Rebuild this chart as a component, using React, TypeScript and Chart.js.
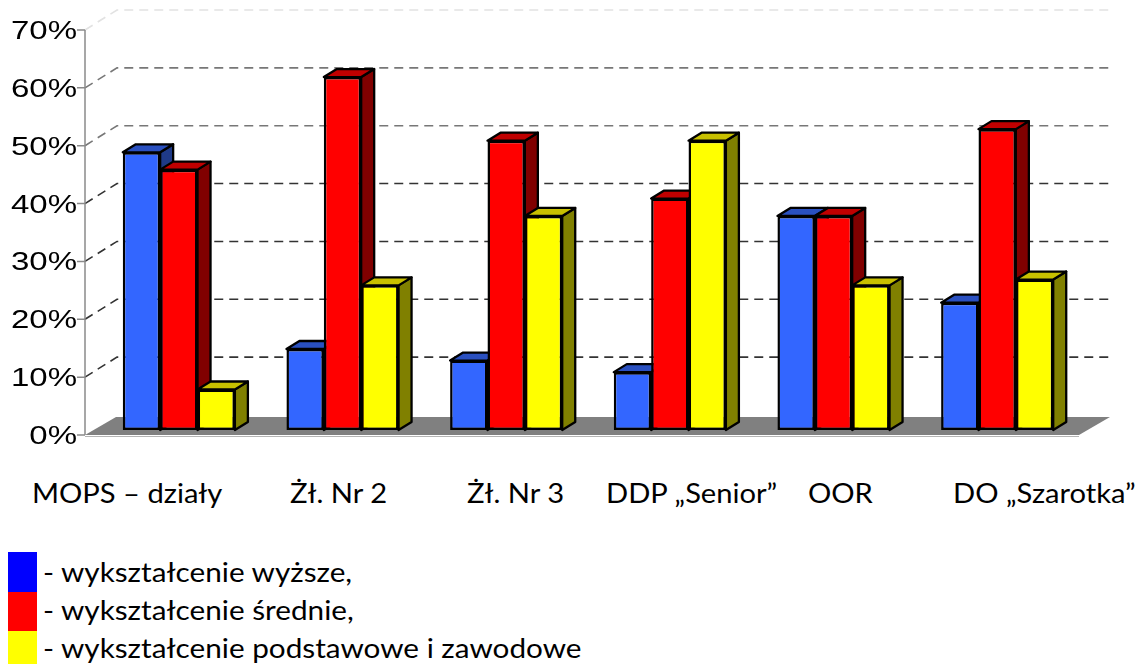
import React, { useEffect, useRef } from "react";
import { Chart, registerables } from "chart.js";

Chart.register(...registerables);

// ---- data ----
const categories = ["MOPS – działy", "Żł. Nr 2", "Żł. Nr 3", "DDP „Senior”", "OOR", "DO „Szarotka”"];
const seriesNames = ["wykształcenie wyższe", "wykształcenie średnie", "wykształcenie podstawowe i zawodowe"];
const higherEdu = [48, 14, 12, 10, 37, 22];
const secondaryEdu = [45, 61, 50, 40, 37, 52];
const basicEdu = [7, 25, 37, 50, 25, 26];
const yTickValues = [0, 10, 20, 30, 40, 50, 60, 70];
const yTickLabels = ["0%", "10%", "20%", "30%", "40%", "50%", "60%", "70%"];
const legendLabels = ["- wykształcenie wyższe,", "- wykształcenie średnie,", "- wykształcenie podstawowe i zawodowe"];

// ---- styles / layout ----
const frontColors = ["#3366FF", "#FF0000", "#FFFF00"];
const topColors = ["#2A50C0", "#C00000", "#C8C000"];
const sideColors = ["#1F3A88", "#800000", "#808000"];
const legendColors = ["#0000FF", "#FF0000", "#FFFF00"];
const categoryLabelLeft = [32, 290, 467, 606, 808, 953];
const CAT_LABEL_BASELINE = 503;
const LEGEND_BASELINES = [582, 620, 658];

const BAR_DX = 13;
const BAR_DY = -8;
const AXIS_OFFSET_X = -12;
const FRONT_DY = 5;
const WALL_DX = 32;
const WALL_DY = -20;
const FLOOR_DX = 31;
const FLOOR_DY = -18;

function gridColor(v: number) {
  if (v >= 70) return "#e2e2e2";
  if (v >= 50) return "#777777";
  return "#333333";
}

const bar3dPlugin = {
  id: "bar3d",
  beforeDatasetsDraw(chart: any) {
    const { ctx, chartArea: a } = chart;
    const y = chart.scales.y;
    const base = y.getPixelForValue(0);
    const axisX = a.left + AXIS_OFFSET_X;
    const frontBase = base + FRONT_DY;
    const wallRight = a.right + 30;

    ctx.save();
    // floor
    ctx.fillStyle = "#808080";
    ctx.beginPath();
    ctx.moveTo(axisX, frontBase);
    ctx.lineTo(a.right, frontBase);
    ctx.lineTo(a.right + FLOOR_DX, frontBase + FLOOR_DY);
    ctx.lineTo(axisX + FLOOR_DX, frontBase + FLOOR_DY);
    ctx.closePath();
    ctx.fill();
    ctx.strokeStyle = "#b4b4b4";
    ctx.lineWidth = 1;
    ctx.beginPath();
    ctx.moveTo(axisX, frontBase + 1.5);
    ctx.lineTo(a.right, frontBase + 1.5);
    ctx.stroke();

    // back-wall gridlines
    ctx.setLineDash([9, 6]);
    ctx.lineWidth = 1.6;
    yTickValues.forEach((v) => {
      if (v === 0) return;
      const yf = y.getPixelForValue(v) + FRONT_DY;
      ctx.strokeStyle = gridColor(v);
      ctx.beginPath();
      ctx.moveTo(axisX, yf);
      ctx.lineTo(axisX + WALL_DX, yf + WALL_DY);
      ctx.lineTo(wallRight, yf + WALL_DY);
      ctx.stroke();
    });
    ctx.setLineDash([]);

    // vertical axis + ticks
    ctx.strokeStyle = "#8a8a8a";
    ctx.lineWidth = 1.5;
    ctx.beginPath();
    ctx.moveTo(axisX, y.getPixelForValue(70) + FRONT_DY);
    ctx.lineTo(axisX, frontBase);
    yTickValues.forEach((v) => {
      const yf = y.getPixelForValue(v) + FRONT_DY;
      ctx.moveTo(axisX - 8, yf);
      ctx.lineTo(axisX, yf);
    });
    ctx.stroke();

    // tick labels (stretched Arial look)
    ctx.fillStyle = "#000";
    ctx.font = '25px "Liberation Sans", Arial, sans-serif';
    ctx.textAlign = "right";
    ctx.textBaseline = "alphabetic";
    yTickValues.forEach((v, i) => {
      const yf = y.getPixelForValue(v) + FRONT_DY;
      ctx.save();
      ctx.translate(axisX - 8, yf + 9);
      ctx.scale(1.32, 1);
      ctx.fillText(yTickLabels[i], 0, 0);
      ctx.restore();
    });

    // bar side & top faces
    const bars: any[] = [];
    chart.data.datasets.forEach((_: any, di: number) => {
      const meta = chart.getDatasetMeta(di);
      meta.data.forEach((el: any) => {
        const p = el.getProps(["x", "y", "base", "width"], true);
        bars.push({ ...p, di });
      });
    });
    bars.sort((p, q) => p.x - q.x);
    ctx.lineWidth = 2.3;
    ctx.lineJoin = "round";
    ctx.strokeStyle = "#000";
    bars.forEach((b) => {
      const l = b.x - b.width / 2;
      const r = b.x + b.width / 2;
      const t = b.y;
      const bs = b.base;
      // side
      ctx.fillStyle = sideColors[b.di];
      ctx.beginPath();
      ctx.moveTo(r, t);
      ctx.lineTo(r + BAR_DX, t + BAR_DY);
      ctx.lineTo(r + BAR_DX, bs + BAR_DY);
      ctx.lineTo(r, bs);
      ctx.closePath();
      ctx.fill();
      ctx.stroke();
      // top
      ctx.fillStyle = topColors[b.di];
      ctx.beginPath();
      ctx.moveTo(l, t);
      ctx.lineTo(l + BAR_DX, t + BAR_DY);
      ctx.lineTo(r + BAR_DX, t + BAR_DY);
      ctx.lineTo(r, t);
      ctx.closePath();
      ctx.fill();
      ctx.stroke();
    });
    ctx.restore();
  },
};

export default function App() {
  const canvasRef = useRef<HTMLCanvasElement | null>(null);

  useEffect(() => {
    const canvas = canvasRef.current;
    if (!canvas) return;
    const seriesValues = [higherEdu, secondaryEdu, basicEdu];
    const chart = new Chart(canvas, {
      type: "bar",
      data: {
        labels: categories,
        datasets: seriesValues.map((vals, i) => ({
          label: seriesNames[i],
          data: vals,
          backgroundColor: frontColors[i],
          borderColor: "#000000",
          borderWidth: 2.5,
          borderSkipped: false,
          categoryPercentage: 0.685,
          barPercentage: 1.0,
        })),
      },
      options: {
        responsive: false,
        animation: false,
        devicePixelRatio: 1,
        layout: { padding: { left: 97, right: 60, top: 25, bottom: 20 } },
        plugins: { legend: { display: false }, tooltip: { enabled: false }, title: { display: false } },
        scales: {
          x: { display: false, offset: true },
          y: { display: false, min: 0, max: 70, ticks: { stepSize: 10 } },
        },
      },
      plugins: [bar3dPlugin],
    });
    return () => chart.destroy();
  }, []);

  const textFont = 'Lato, "Open Sans", sans-serif';
  const catFontSize = 26;
  const legFontSize = 27;

  return (
    <div style={{ position: "absolute", left: 0, top: 0, width: 1139, height: 664, background: "#fff", overflow: "hidden" }}>
      <canvas ref={canvasRef} width={1139} height={450} style={{ position: "absolute", left: 0, top: 0 }} />
      {categories.map((c, i) => (
        <div
          key={c}
          style={{
            position: "absolute",
            left: categoryLabelLeft[i],
            top: CAT_LABEL_BASELINE - 0.987 * catFontSize,
            fontFamily: textFont,
            fontSize: catFontSize,
            lineHeight: "normal",
            whiteSpace: "nowrap",
            color: "#000",
            transform: "scaleX(1.12)",
            transformOrigin: "left center",
          }}
        >
          {c}
        </div>
      ))}
      {legendLabels.map((t, i) => (
        <React.Fragment key={t}>
          <div
            style={{
              position: "absolute",
              left: 8,
              top: 552 + i * 39.5,
              width: 29,
              height: 39.5,
              background: legendColors[i],
            }}
          />
          <div
            style={{
              position: "absolute",
              left: 43,
              top: LEGEND_BASELINES[i] - 0.987 * legFontSize,
              fontFamily: textFont,
              fontSize: legFontSize,
              lineHeight: "normal",
              whiteSpace: "nowrap",
              color: "#000",
              transform: "scaleX(1.1)",
              transformOrigin: "left center",
            }}
          >
            {t}
          </div>
        </React.Fragment>
      ))}
    </div>
  );
}
